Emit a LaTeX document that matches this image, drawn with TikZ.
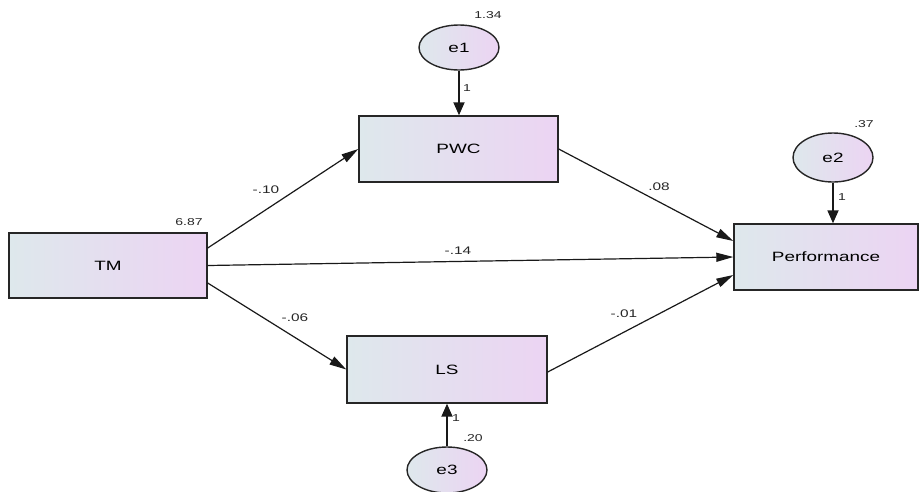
\documentclass[tikz,border=0pt]{standalone}
\usepackage{fontspec}
\setmainfont{Liberation Sans}[FakeStretch=1.4]
\usetikzlibrary{shapes.geometric,arrows.meta,calc}
\definecolor{gleft}{RGB}{222,232,236}
\definecolor{gright}{RGB}{236,212,243}
\tikzset{
  obs/.style={draw=black!85, line width=1.4pt, rectangle, inner sep=0pt, left color=gleft, right color=gright, font=\fontsize{13.5}{15}\selectfont},
  err/.style={draw=black!85, line width=1.4pt, ellipse, inner sep=0pt, minimum width=80pt, left color=gleft, right color=gright, font=\fontsize{13.5}{15}\selectfont},
  path/.style={draw=black!90, line width=1.2pt, -{Triangle[length=17pt,width=9pt]}},
  epath/.style={draw=black!90, line width=1.8pt, -{Triangle[length=13pt,width=11pt]}},
  lab/.style={font=\fontsize{11}{12}\selectfont, text=black!85, inner sep=0pt},
  slab/.style={font=\fontsize{10}{11}\selectfont, text=black!85, inner sep=0pt}
}
\begin{document}
\begin{tikzpicture}[x=1pt,y=-1pt]
\useasboundingbox (0,0) rectangle (922,491);
% observed variables
\node[obs, minimum width=198pt, minimum height=65pt] (TM) at (108,265.5) {TM};
\node[obs, minimum width=199pt, minimum height=66pt] (PWC) at (458.5,149) {PWC};
\node[obs, minimum width=184pt, minimum height=66pt] (PERF) at (826,257) {Performance};
\node[obs, minimum width=200pt, minimum height=67pt] (LS) at (447,369.5) {LS};
% error terms
\node[err, minimum height=45pt] (e1) at (459,47.5) {e1};
\node[err, minimum height=49pt] (e2) at (833,157.5) {e2};
\node[err, minimum height=46pt] (e3) at (447,470) {e3};
% paths
\draw[path] ([yshift=17.5pt]TM.east) -- (PWC.west);
\draw[path] (TM.east) -- (PERF.west);
\draw[path] ([yshift=-17.5pt]TM.east) -- (LS.west);
\draw[path] (PWC.east) -- ([yshift=16pt]PERF.west);
\draw[path] ([yshift=-2.5pt]LS.east) -- ([yshift=-18pt]PERF.west);
\draw[epath] (e1.south) -- (e1.south |- PWC.north);
\draw[epath] (e2.south) -- (e2.south |- PERF.north);
\draw[epath] (e3.north) -- (e3.north |- LS.south);
% labels
\node[slab] (vTM) at (189,222) {6.87};
\node[slab] (v1) at (488,15) {1.34};
\node[slab] (v2) at (864,124) {.37};
\node[slab] (v3) at (473,438) {.20};
\node[slab] (w1) at (467,88) {1};
\node[slab] (w2) at (842,197) {1};
\node[slab] (w3) at (456,418) {1};
\node[lab] (p1) at (266,190) {-.10};
\node[lab] (p2) at (458,251) {-.14};
\node[lab] (p3) at (295,318) {-.06};
\node[lab] (p4) at (659,187) {.08};
\node[lab] (p5) at (624,314) {-.01};
\end{tikzpicture}
\end{document}
